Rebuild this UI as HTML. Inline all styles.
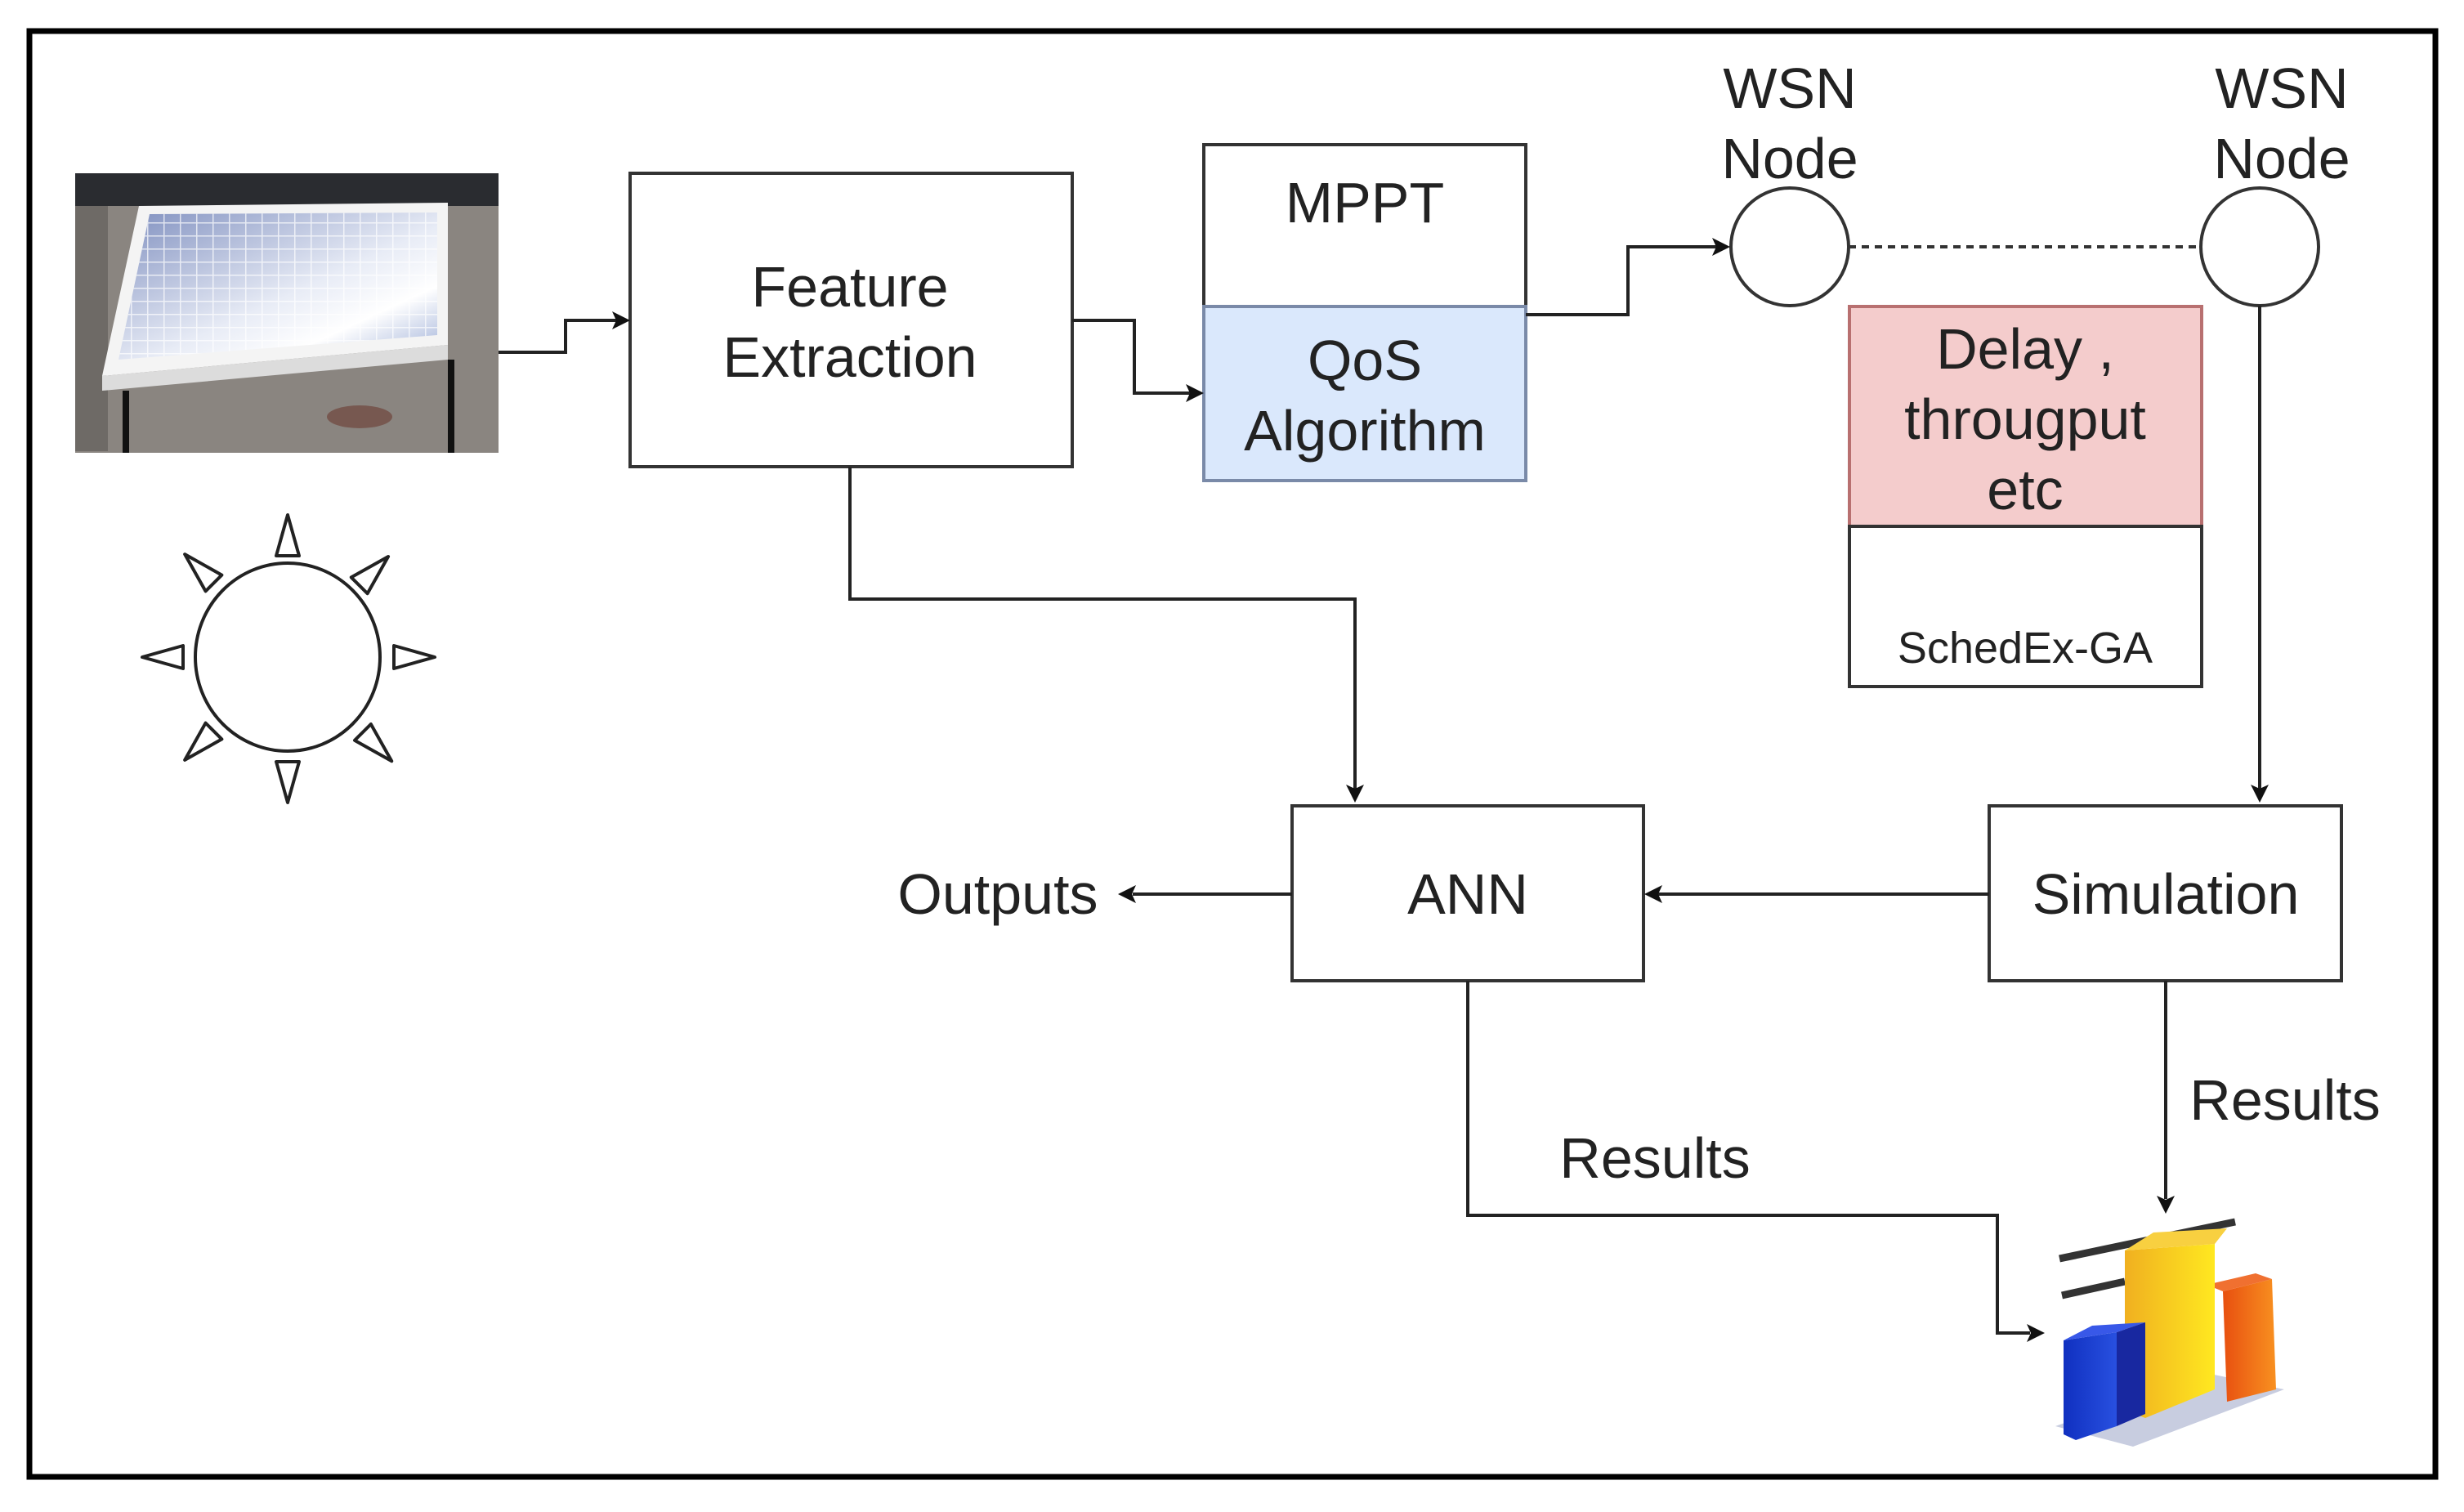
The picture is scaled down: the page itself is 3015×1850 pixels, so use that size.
<!DOCTYPE html>
<html><head><meta charset="utf-8"><style>
html,body{margin:0;padding:0;background:#fff;}
svg{display:block;}
text{font-family:"Liberation Sans",Arial,sans-serif;fill:#222;}
</style></head><body>
<svg width="3015" height="1850" viewBox="0 0 3015 1850" xmlns="http://www.w3.org/2000/svg">
<defs>
<linearGradient id="panel" x1="0" y1="0" x2="1" y2="1">
<stop offset="0" stop-color="#7f8fbf"/><stop offset="0.55" stop-color="#e8ecf6"/><stop offset="0.75" stop-color="#ffffff"/><stop offset="1" stop-color="#9fb0d8"/></linearGradient>
<pattern id="grid" width="20" height="16" patternUnits="userSpaceOnUse"><rect width="20" height="16" fill="none"/><path d="M0 0H20M0 0V16" stroke="#fff" stroke-width="3" opacity="0.7"/></pattern>
<linearGradient id="yel" x1="0" x2="1"><stop offset="0" stop-color="#f0b020"/><stop offset="1" stop-color="#ffe820"/></linearGradient>
<linearGradient id="blu" x1="0" x2="1"><stop offset="0" stop-color="#1030c0"/><stop offset="1" stop-color="#2850e0"/></linearGradient>
<linearGradient id="org" x1="0" x2="1"><stop offset="0" stop-color="#e85010"/><stop offset="1" stop-color="#f89020"/></linearGradient>
</defs>
<rect x="36" y="38" width="2944" height="1769" fill="none" stroke="#000" stroke-width="7"/>

<!-- solar photo -->
<rect x="92" y="212" width="518" height="342" fill="#8a8580"/>
<rect x="92" y="212" width="518" height="40" fill="#2a2c30"/>
<rect x="92" y="252" width="40" height="300" fill="#6e6a66"/>
<polygon points="170,252 548,248 548,422 125,460" fill="#f4f4f4"/>
<polygon points="183,262 535,260 535,410 145,440" fill="url(#panel)"/>
<polygon points="183,262 535,260 535,410 145,440" fill="url(#grid)"/>
<polygon points="125,460 548,422 548,440 125,478" fill="#dcdcdc"/>
<rect x="150" y="478" width="8" height="76" fill="#111"/>
<rect x="548" y="440" width="8" height="114" fill="#111"/>
<ellipse cx="440" cy="510" rx="40" ry="14" fill="#6a3a30" opacity="0.6"/>

<!-- sun -->
<ellipse cx="352" cy="804" rx="113" ry="115" fill="#fff" stroke="#222" stroke-width="4"/>
<g fill="#fff" stroke="#222" stroke-width="4" stroke-linejoin="round">
<polygon points="352,630 338,680 366,680"/>
<polygon points="352,982 338,932 366,932"/>
<polygon points="174,804 224,790 224,818"/>
<polygon points="532,804 482,790 482,818"/>
<g transform="rotate(45 352 804)"><polygon points="352,630 338,680 366,680"/><polygon points="352,982 338,932 366,932"/><polygon points="174,804 224,790 224,818"/><polygon points="532,804 482,790 482,818"/></g>
</g>

<!-- boxes -->
<g stroke="#333" stroke-width="4" fill="#fff">
<rect x="771" y="212" width="541" height="359"/>
<rect x="1473" y="177" width="394" height="198"/>
<rect x="1473" y="375" width="394" height="213" fill="#dae8fc" stroke="#7a8aa8"/>
<rect x="2263" y="375" width="431" height="269" fill="#f4cccc" stroke="#b87070"/>
<rect x="2263" y="644" width="431" height="196"/>
<rect x="1581" y="986" width="430" height="214"/>
<rect x="2434" y="986" width="431" height="214"/>
<circle cx="2190" cy="302" r="72"/>
<circle cx="2765" cy="302" r="72"/>
</g>
<line x1="2262" y1="302" x2="2693" y2="302" stroke="#333" stroke-width="4" stroke-dasharray="9 7"/>

<!-- connectors -->
<g fill="none" stroke="#222" stroke-width="4">
<polyline points="610,431 692,431 692,392 755,392"/>
<polyline points="1312,392 1388,392 1388,481 1457,481"/>
<polyline points="1867,385 1992,385 1992,302 2101,302"/>
<polyline points="1040,571 1040,733 1658,733 1658,966"/>
<polyline points="2765,374 2765,966"/>
<polyline points="2434,1094 2028,1094"/>
<polyline points="1581,1094 1386,1094"/>
<polyline points="1796,1200 1796,1487 2444,1487 2444,1631 2484,1631"/>
<polyline points="2650,1200 2650,1467"/>
</g>
<g fill="#111">
<polygon points="771,392 749,381 754,392 749,403"/>
<polygon points="1473,481 1451,470 1456,481 1451,492"/>
<polygon points="2117,302 2095,291 2100,302 2095,313"/>
<polygon points="1658,982 1647,960 1658,965 1669,960"/>
<polygon points="2765,982 2754,960 2765,965 2776,960"/>
<polygon points="2012,1094 2034,1083 2029,1094 2034,1105"/>
<polygon points="1368,1094 1390,1083 1385,1094 1390,1105"/>
<polygon points="2502,1631 2480,1620 2485,1631 2480,1642"/>
<polygon points="2650,1485 2639,1463 2650,1468 2661,1463"/>
</g>

<!-- chart -->
<g>
<polygon points="2515,1745 2700,1680 2795,1700 2610,1770" fill="#c8cde0"/>
<line x1="2520" y1="1540" x2="2735" y2="1495" stroke="#333" stroke-width="9"/>
<line x1="2523" y1="1585" x2="2600" y2="1568" stroke="#333" stroke-width="9"/>
<polygon points="2720,1580 2780,1565 2785,1700 2725,1715" fill="url(#org)"/>
<polygon points="2700,1572 2720,1580 2780,1565 2760,1558" fill="#f07030"/>
<polygon points="2600,1530 2710,1522 2710,1700 2625,1735 2600,1725" fill="url(#yel)"/>
<polygon points="2600,1530 2635,1508 2725,1503 2710,1522" fill="#f8d040"/>
<polygon points="2525,1640 2590,1630 2590,1745 2540,1762 2525,1755" fill="url(#blu)"/>
<polygon points="2590,1630 2625,1618 2625,1730 2590,1745" fill="#1828a0"/>
<polygon points="2525,1640 2560,1622 2625,1618 2590,1630" fill="#3858e8"/>
</g>

<!-- labels -->
<g font-size="70" text-anchor="middle">
<text x="1040" y="375">Feature</text>
<text x="1040" y="461">Extraction</text>
<text x="1670" y="272">MPPT</text>
<text x="1670" y="465">QoS</text>
<text x="1670" y="551">Algorithm</text>
<text x="2190" y="132">WSN</text>
<text x="2190" y="218">Node</text>
<text x="2792" y="132">WSN</text>
<text x="2792" y="218">Node</text>
<text x="2478" y="451">Delay ,</text>
<text x="2478" y="537">througput</text>
<text x="2478" y="623">etc</text>
<text x="1796" y="1118">ANN</text>
<text x="2650" y="1118">Simulation</text>
<text x="1221" y="1118">Outputs</text>
<text x="2796" y="1370">Results</text>
<text x="2025" y="1441">Results</text>
<text x="2478" y="811" font-size="54" font-family="'DejaVu Sans',sans-serif">SchedEx-GA</text>
</g>
</svg>
</body></html>
